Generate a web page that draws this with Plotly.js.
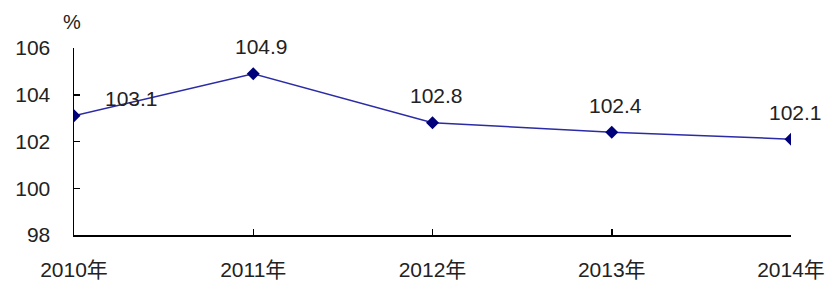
<!DOCTYPE html>
<html><head><meta charset="utf-8">
<script src="https://cdn.plot.ly/plotly-3.0.1.min.js"></script>
<style>html,body{margin:0;padding:0;background:#fff;}</style>
</head><body>
<div id="chart" style="width:831px;height:282px;"></div>
<script>
const years = ["2010年", "2011年", "2012年", "2013年", "2014年"];
const values = [103.1, 104.9, 102.8, 102.4, 102.1];
const labelText = ["103.1", "104.9", "102.8", "102.4", "102.1"];
const yTicks = [98, 100, 102, 104, 106];
const unitLabel = "%";

const FONT = "Liberation Sans, Arial, Noto Sans CJK SC, sans-serif";
const labelShiftX = [57, 8, 4, 4, 4];

const annotations = values.map((v, i) => ({
  x: i, y: v, xref: "x", yref: "y",
  text: labelText[i], showarrow: false,
  xshift: labelShiftX[i], yshift: i === 0 ? 17 : 27,
  font: {family: FONT, size: 21, color: "#222"}
}));
annotations.push({
  x: 0, y: 1, xref: "paper", yref: "paper", text: unitLabel, showarrow: false,
  xanchor: "center", yanchor: "bottom", yshift: 13, xshift: -2,
  font: {family: FONT, size: 20, color: "#222"}
});

Plotly.newPlot("chart", [{
  x: years.map((_, i) => i), y: values, type: "scatter", mode: "lines+markers",
  line: {color: "#2b2ba6", width: 1.5},
  marker: {symbol: "diamond", size: 10, color: "#00007a"},
  hoverinfo: "none"
}], {
  width: 831, height: 282,
  margin: {l: 74, r: 40, t: 48, b: 47},
  paper_bgcolor: "#fff", plot_bgcolor: "#fff",
  showlegend: false,
  font: {family: FONT, size: 21, color: "#222"},
  xaxis: {
    range: [0, 4], tickmode: "array", tickvals: years.map((_, i) => i), ticktext: years,
    showline: true, linecolor: "#000", linewidth: 1.5, mirror: false,
    ticks: "inside", ticklen: 6, tickwidth: 1.5, tickcolor: "#000",
    showgrid: false, zeroline: false, ticklabelstandoff: 15,
    tickfont: {family: FONT, size: 21, color: "#222"}
  },
  yaxis: {
    range: [98, 106], tickmode: "array", tickvals: yTicks,
    showline: true, linecolor: "#000", linewidth: 1.5,
    ticks: "inside", ticklen: 6, tickwidth: 1.5, tickcolor: "#000",
    showgrid: false, zeroline: false, ticklabelstandoff: 18,
    tickfont: {family: FONT, size: 21, color: "#222"}
  },
  annotations: annotations
}, {staticPlot: true});
</script>
</body></html>
